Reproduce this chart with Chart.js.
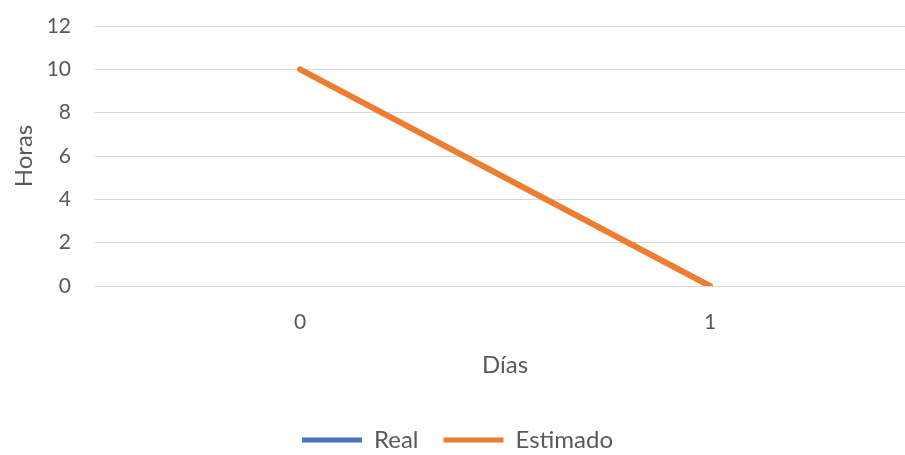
<!DOCTYPE html>
<html>
<head>
<meta charset="utf-8">
<script src="https://cdn.jsdelivr.net/npm/chart.js@4"></script>
<style>
  html, body { margin: 0; padding: 0; background: #fff; overflow: hidden; }
  #wrap { width: 915px; height: 455px; }
</style>
</head>
<body>
<div id="wrap"><canvas id="myChart" width="915" height="455"></canvas></div>
<script>
// data
const dias = ['0', '1'];
const real = [];
const estimado = [10, 0];
const yTicks = [0, 2, 4, 6, 8, 10, 12];

const textColor = '#595959';
const gridColor = '#d9d9d9';
const fontFamily = 'Lato, "Open Sans", sans-serif';
const tickFont = { family: fontFamily, size: 21 };
const labelFont = { family: fontFamily, size: 24 };

const ctx = document.querySelector('#myChart').getContext('2d');

const myChart = new Chart(ctx, {
    type: 'line',
    data: {
        labels: dias,
        datasets: [{
            label: 'Real',
            data: real,
            borderColor: '#4472C4',
            backgroundColor: '#4472C4',
            borderWidth: 6,
            pointRadius: 0,
            borderCapStyle: 'round'
        }, {
            label: 'Estimado',
            data: estimado,
            borderColor: '#ED7D31',
            backgroundColor: '#ED7D31',
            borderWidth: 6,
            pointRadius: 0,
            borderCapStyle: 'round'
        }]
    },
    options: {
        responsive: false,
        animation: false,
        layout: { padding: { top: 26, left: 0, right: 0, bottom: -7 } },
        plugins: {
            tooltip: { enabled: false },
            legend: {
                position: 'bottom',
                labels: {
                    color: textColor,
                    font: labelFont,
                    boxWidth: 60,
                    boxHeight: 5,
                    padding: 25,
                    generateLabels: chart => Chart.defaults.plugins.legend.labels.generateLabels(chart)
                        .map(l => Object.assign(l, { lineWidth: 0 }))
                }
            }
        },
        scales: {
            x: {
                type: 'category',
                offset: true,
                grid: { display: false, drawTicks: false },
                border: { display: false },
                ticks: { color: textColor, font: tickFont, padding: 24 },
                title: {
                    display: true, text: 'Días', color: textColor,
                    font: labelFont,
                    padding: { top: 0, bottom: 23 }
                },
                afterFit: s => { s.height = 117; }
            },
            y: {
                min: 0,
                max: 12,
                afterBuildTicks: s => { s.ticks = yTicks.map(v => ({ value: v })); },
                grid: { color: gridColor, lineWidth: 1, drawTicks: false },
                border: { display: false },
                ticks: { color: textColor, font: tickFont, padding: 24 },
                title: {
                    display: true, text: 'Horas', color: textColor,
                    font: labelFont,
                    padding: { top: 10, bottom: 0 }
                },
                afterFit: s => { s.width = 95; s.paddingTop = 0; s.paddingBottom = 0; }
            }
        }
    }
});
</script>
</body>
</html>
